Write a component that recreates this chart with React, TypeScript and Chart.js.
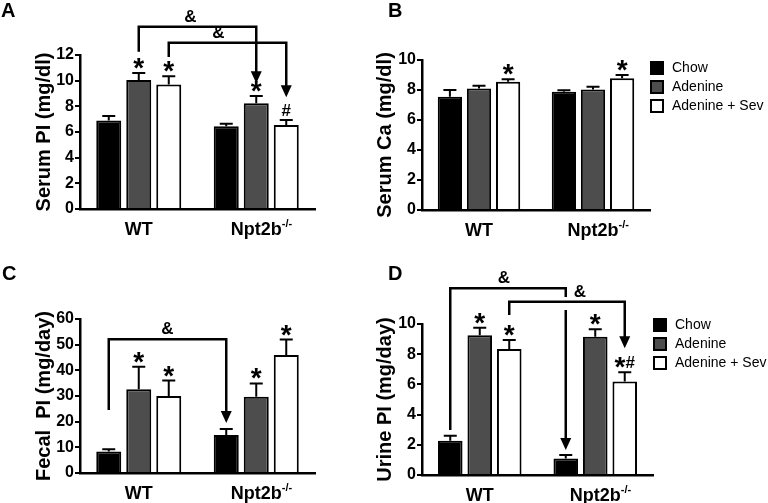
import React, { useEffect, useRef } from 'react';
import { Chart, registerables } from 'chart.js';

Chart.register(...registerables);

const FAM = "'Liberation Sans', Arial, Helvetica, sans-serif";

// ---- shared ----
const categories = ['WT', 'Npt2b'];
const categorySup = ['', '-/-'];
const seriesNames = ['Chow', 'Adenine', 'Adenine + Sev'];
const seriesColors = ['#000000', '#4d4d4d', '#ffffff'];

// ---- Panel A: Serum Pi (mg/dl) ----
const serumPiChow = [6.9, 6.45];
const serumPiChowSem = [0.35, 0.2];
const serumPiAdenine = [10.05, 8.25];
const serumPiAdenineSem = [0.55, 0.55];
const serumPiSev = [9.7, 6.55];
const serumPiSevSem = [0.65, 0.38];
const serumPiMarks = [['', ''], ['*', '*'], ['*', '#']];

// ---- Panel B: Serum Ca (mg/dl) ----
const serumCaChow = [7.55, 7.88];
const serumCaChowSem = [0.45, 0.1];
const serumCaAdenine = [8.1, 8.03];
const serumCaAdenineSem = [0.18, 0.18];
const serumCaSev = [8.55, 8.78];
const serumCaSevSem = [0.17, 0.22];
const serumCaMarks = [['', ''], ['', ''], ['*', '*']];

// ---- Panel C: Fecal Pi (mg/day) ----
const fecalPiChow = [8.4, 14.8];
const fecalPiChowSem = [0.9, 2.3];
const fecalPiAdenine = [32.6, 29.7];
const fecalPiAdenineSem = [8.8, 5.2];
const fecalPiSev = [30.0, 46.0];
const fecalPiSevSem = [6.0, 6.0];
const fecalPiMarks = [['', ''], ['*', '*'], ['*', '*']];

// ---- Panel D: Urine Pi (mg/day) ----
const urinePiChow = [2.27, 1.1];
const urinePiChowSem = [0.33, 0.22];
const urinePiAdenine = [9.25, 9.15];
const urinePiAdenineSem = [0.5, 0.5];
const urinePiSev = [8.34, 6.2];
const urinePiSevSem = [0.6, 0.6];
const urinePiMarks = [['', ''], ['*', '*'], ['*', '*#']];

type Bracket = {
  fromDs: number; fromCat: number; toDs: number; toCat: number;
  leftStart: number; level: number; tip: number;
  breakFrom?: number; breakTo?: number; labelDx: number;
};

type Panel = {
  letter: string;
  yTitle: string;
  yMax: number;
  yStep: number;
  means: number[][];
  sems: number[][];
  marks: string[][];
  brackets: Bracket[];
  legend: boolean;
  box: { left: number; top: number; width: number; height: number };
  area: { left: number; right: number; top: number; bottom: number };
  padLeft: number;
  legendTop: number;
  letterPos: { left: number; top: number };
};

const panels: Panel[] = [
  {
    letter: 'A', yTitle: 'Serum PI (mg/dl)', yMax: 12, yStep: 2,
    means: [serumPiChow, serumPiAdenine, serumPiSev],
    sems: [serumPiChowSem, serumPiAdenineSem, serumPiSevSem],
    marks: serumPiMarks,
    brackets: [
      { fromDs: 1, fromCat: 0, toDs: 1, toCat: 1, leftStart: 12.25, level: 14.2, tip: 9.8, labelDx: -7 },
      { fromDs: 2, fromCat: 0, toDs: 2, toCat: 1, leftStart: 11.85, level: 12.95, tip: 8.7, labelDx: -9 },
    ],
    legend: false,
    box: { left: 0, top: 0, width: 340, height: 250 },
    area: { left: 80, right: 315, top: 55, bottom: 209 },
    padLeft: 32, legendTop: 0,
    letterPos: { left: 1, top: 0 },
  },
  {
    letter: 'B', yTitle: 'Serum Ca (mg/dl)', yMax: 10, yStep: 2,
    means: [serumCaChow, serumCaAdenine, serumCaSev],
    sems: [serumCaChowSem, serumCaAdenineSem, serumCaSevSem],
    marks: serumCaMarks,
    brackets: [],
    legend: true,
    box: { left: 340, top: 0, width: 428, height: 250 },
    area: { left: 82, right: 310, top: 60, bottom: 210 },
    padLeft: 33, legendTop: 61,
    letterPos: { left: 388, top: 0 },
  },
  {
    letter: 'C', yTitle: 'Fecal  PI (mg/day)', yMax: 60, yStep: 10,
    means: [fecalPiChow, fecalPiAdenine, fecalPiSev],
    sems: [fecalPiChowSem, fecalPiAdenineSem, fecalPiSevSem],
    marks: fecalPiMarks,
    brackets: [
      { fromDs: 0, fromCat: 0, toDs: 0, toCat: 1, leftStart: 24.5, level: 52.1, tip: 19.5, labelDx: 0 },
    ],
    legend: false,
    box: { left: 0, top: 250, width: 340, height: 253 },
    area: { left: 80, right: 315, top: 69, bottom: 223 },
    padLeft: 32, legendTop: 0,
    letterPos: { left: 2, top: 263 },
  },
  {
    letter: 'D', yTitle: 'Urine PI (mg/day)', yMax: 10, yStep: 2,
    means: [urinePiChow, urinePiAdenine, urinePiSev],
    sems: [urinePiChowSem, urinePiAdenineSem, urinePiSevSem],
    marks: urinePiMarks,
    brackets: [
      { fromDs: 0, fromCat: 0, toDs: 0, toCat: 1, leftStart: 2.98, level: 12.36, tip: 1.66, breakFrom: 11.79, breakTo: 10.93, labelDx: -4 },
      { fromDs: 2, fromCat: 0, toDs: 2, toCat: 1, leftStart: 10.6, level: 11.48, tip: 8.39, labelDx: 13 },
    ],
    legend: true,
    box: { left: 340, top: 250, width: 428, height: 253 },
    area: { left: 82, right: 313, top: 74, bottom: 225 },
    padLeft: 33, legendTop: 68,
    letterPos: { left: 388, top: 263 },
  },
];

function drawMark(ctx: CanvasRenderingContext2D, s: string, cx: number, bottomY: number) {
  if (!s) return;
  const chars = s.split('');
  const fontFor = (c: string) => (c === '*' ? `bold 28px ${FAM}` : `bold 17px ${FAM}`);
  ctx.textAlign = 'left';
  ctx.textBaseline = 'alphabetic';
  const metrics = chars.map((c) => {
    ctx.font = fontFor(c);
    return ctx.measureText(c);
  });
  const total = metrics.reduce((a, m) => a + m.width, 0);
  let x = cx - total / 2;
  chars.forEach((c, k) => {
    ctx.font = fontFor(c);
    const m = metrics[k];
    const desc = typeof m.actualBoundingBoxDescent === 'number' ? m.actualBoundingBoxDescent : 0;
    // place glyph so that its visual bottom sits at bottomY
    ctx.fillText(c, x, bottomY - desc);
    x += m.width;
  });
}

function makeOverlay(p: Panel) {
  return {
    id: 'overlay' + p.letter,
    afterDatasetsDraw(chart: any) {
      const ctx: CanvasRenderingContext2D = chart.ctx;
      const y = chart.scales.y;
      ctx.save();
      ctx.strokeStyle = '#000';
      ctx.fillStyle = '#000';
      // error bars and significance marks
      p.means.forEach((vals, di) => {
        const meta = chart.getDatasetMeta(di);
        vals.forEach((v, i) => {
          const bar = meta.data[i];
          const bx = bar.x;
          const top = y.getPixelForValue(v);
          const et = y.getPixelForValue(v + p.sems[di][i]);
          ctx.lineWidth = 2;
          ctx.beginPath();
          ctx.moveTo(bx, top);
          ctx.lineTo(bx, et);
          ctx.moveTo(bx - 6.5, et);
          ctx.lineTo(bx + 6.5, et);
          ctx.stroke();
          drawMark(ctx, p.marks[di][i], bx, et - 4);
        });
      });
      // brackets
      p.brackets.forEach((b) => {
        const x1 = chart.getDatasetMeta(b.fromDs).data[b.fromCat].x;
        const x2 = chart.getDatasetMeta(b.toDs).data[b.toCat].x;
        const ys = y.getPixelForValue(b.leftStart);
        const yl = y.getPixelForValue(b.level);
        const yt = y.getPixelForValue(b.tip);
        ctx.lineWidth = 2.5;
        ctx.lineJoin = 'miter';
        ctx.lineCap = 'butt';
        ctx.beginPath();
        ctx.moveTo(x1, ys);
        ctx.lineTo(x1, yl);
        ctx.lineTo(x2, yl);
        if (b.breakFrom !== undefined && b.breakTo !== undefined) {
          ctx.lineTo(x2, y.getPixelForValue(b.breakFrom));
          ctx.moveTo(x2, y.getPixelForValue(b.breakTo));
        }
        ctx.lineTo(x2, yt - 10);
        ctx.stroke();
        ctx.beginPath();
        ctx.moveTo(x2 - 5.5, yt - 12);
        ctx.lineTo(x2 + 5.5, yt - 12);
        ctx.lineTo(x2, yt);
        ctx.closePath();
        ctx.fill();
        ctx.font = `bold 17px ${FAM}`;
        ctx.textAlign = 'center';
        ctx.textBaseline = 'alphabetic';
        ctx.fillText('&', (x1 + x2) / 2 + b.labelDx, yl - 5);
      });
      ctx.restore();
    },
    afterDraw(chart: any) {
      const ctx: CanvasRenderingContext2D = chart.ctx;
      const xs = chart.scales.x;
      const area = chart.chartArea;
      ctx.save();
      ctx.fillStyle = '#000';
      // category labels with superscript
      categories.forEach((c, i) => {
        const cx = xs.getPixelForValue(i);
        const base = area.bottom + 26;
        ctx.font = `bold 18px ${FAM}`;
        ctx.textAlign = 'center';
        ctx.textBaseline = 'alphabetic';
        ctx.fillText(c, cx, base);
        if (categorySup[i]) {
          const w = ctx.measureText(c).width;
          ctx.font = `bold 11px ${FAM}`;
          ctx.textAlign = 'left';
          ctx.fillText(categorySup[i], cx + w / 2, base - 8);
        }
      });
      // legend
      if (p.legend) {
        const lx = area.right;
        seriesNames.forEach((name, r) => {
          const top = p.legendTop + r * 19;
          ctx.fillStyle = seriesColors[r];
          ctx.fillRect(lx, top, 14, 14);
          ctx.strokeStyle = '#000';
          ctx.lineWidth = 2;
          ctx.strokeRect(lx + 1, top + 1, 12, 12);
          ctx.fillStyle = '#000';
          ctx.font = `14px ${FAM}`;
          ctx.textAlign = 'left';
          ctx.textBaseline = 'middle';
          ctx.fillText(name, lx + 22, top + 7);
        });
      }
      ctx.restore();
    },
  };
}

function PanelChart({ p }: { p: Panel }) {
  const ref = useRef<HTMLCanvasElement | null>(null);
  useEffect(() => {
    if (!ref.current) return;
    const chart = new Chart(ref.current, {
      type: 'bar',
      data: {
        labels: categories,
        datasets: p.means.map((vals, di) => ({
          label: seriesNames[di],
          data: vals,
          backgroundColor: seriesColors[di],
          borderColor: '#000',
          borderWidth: 2,
          categoryPercentage: 0.766,
          barPercentage: 0.833,
        })),
      },
      options: {
        responsive: false,
        maintainAspectRatio: false,
        animation: false,
        devicePixelRatio: 1,
        layout: {
          padding: {
            left: p.padLeft,
            right: p.box.width - p.area.right,
            top: p.area.top,
            bottom: p.box.height - p.area.bottom,
          },
        },
        plugins: {
          legend: { display: false },
          tooltip: { enabled: false },
        },
        scales: {
          x: {
            type: 'category',
            offset: true,
            grid: { display: true, drawOnChartArea: false, drawTicks: false, color: '#000' },
            border: { display: true, width: 2.5, color: '#000' },
            ticks: { display: false },
            afterFit: (s: any) => { s.height = 0; },
          },
          y: {
            min: 0,
            max: p.yMax,
            ticks: {
              stepSize: p.yStep,
              color: '#000',
              padding: 1,
              font: { family: FAM, size: 16, weight: 'bold' },
            },
            grid: { display: true, drawOnChartArea: false, drawTicks: true, tickLength: 5, lineWidth: 2, color: '#000' },
            border: { display: true, width: 2.5, color: '#000' },
            title: {
              display: true,
              text: p.yTitle,
              color: '#000',
              padding: 0,
              font: { family: FAM, size: 20, weight: 'bold' },
            },
            afterFit: (s: any) => { s.width = p.area.left - p.padLeft; },
          },
        },
      } as any,
      plugins: [makeOverlay(p)],
    });
    return () => chart.destroy();
  }, [p]);
  return (
    <canvas
      ref={ref}
      width={p.box.width}
      height={p.box.height}
      style={{ position: 'absolute', left: p.box.left, top: p.box.top, width: p.box.width, height: p.box.height }}
    />
  );
}

export default function App() {
  return (
    <div style={{ position: 'fixed', left: 0, top: 0, width: 768, height: 503, background: '#fff', overflow: 'hidden' }}>
      {panels.map((p) => (
        <PanelChart key={p.letter} p={p} />
      ))}
      {panels.map((p) => (
        <div
          key={'l' + p.letter}
          style={{
            position: 'absolute', left: p.letterPos.left, top: p.letterPos.top,
            font: `bold 20px ${FAM}`, color: '#000', lineHeight: '20px',
          }}
        >
          {p.letter}
        </div>
      ))}
    </div>
  );
}
